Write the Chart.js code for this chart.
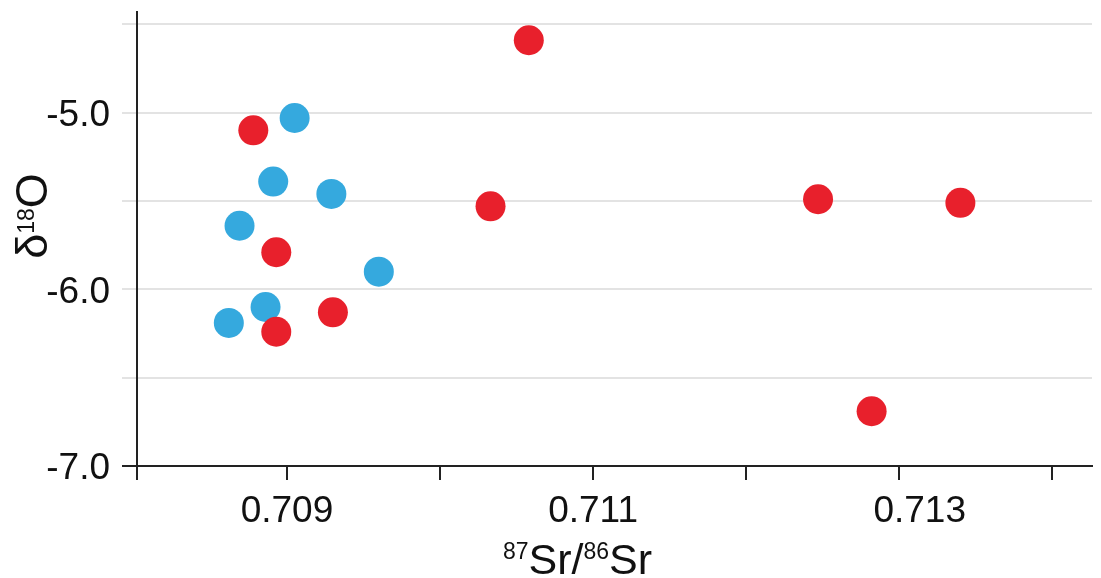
<!DOCTYPE html>
<html>
<head>
<meta charset="utf-8">
<script src="https://cdn.jsdelivr.net/npm/chart.js@4.4.1/dist/chart.umd.min.js"></script>
<style>
  html, body { margin: 0; padding: 0; background: #fff; }
  #wrap { width: 1101px; height: 578px; }
</style>
</head>
<body>
<div id="wrap"><canvas id="srChart"></canvas></div>
<script>
// red group
const redSr = [0.71058, 0.70878, 0.71033, 0.71247, 0.71340, 0.70893, 0.70930, 0.70893, 0.71282];
const redO = [-4.59, -5.10, -5.53, -5.49, -5.51, -5.79, -6.13, -6.24, -6.69];
// blue group
const blueSr = [0.70905, 0.70891, 0.70929, 0.70869, 0.70960, 0.70886, 0.70862];
const blueO = [-5.03, -5.39, -5.46, -5.64, -5.90, -6.10, -6.19];

const xMin = 0.70802, xMax = 0.71426;
const yMin = -7.0, yMax = -4.43;
const xTickVals = [xMin, 0.709, 0.710, 0.711, 0.712, 0.713, 0.714];
const xLabelled = [0.709, 0.711, 0.713];
// the 0.713 label sits a little right of its tick in the original
const xLabelText = ['0.709', '0.711', '    0.713'];
const yTickVals = [-7.0, -6.5, -6.0, -5.5, -5.0, -4.5];
const yLabelled = [-7.0, -6.0, -5.0];

const FONT = '"Liberation Sans", Arial, Helvetica, sans-serif';

function drawRich(c, parts, x, y) {
  let total = 0;
  parts.forEach((p) => {
    c.font = p[1] + 'px ' + FONT;
    p.w = c.measureText(p[0]).width;
    total += p.w;
  });
  let cx = x - total / 2;
  parts.forEach((p) => {
    c.font = p[1] + 'px ' + FONT;
    c.fillText(p[0], cx, y - p[2]);
    cx += p.w;
  });
}

const titlePlugin = {
  id: 'supTitles',
  afterDraw(chart) {
    const c = chart.ctx;
    const area = chart.chartArea;
    c.save();
    c.fillStyle = '#111';
    c.textAlign = 'left';
    c.textBaseline = 'alphabetic';
    drawRich(c, [['87', 23, 15], ['Sr/', 43, 0], ['86', 23, 15], ['Sr', 43, 0]],
      (area.left + area.right) / 2 - 37, chart.height - 4);
    c.translate(47, 216);
    c.rotate(-Math.PI / 2);
    drawRich(c, [['δ', 45, 0], ['18', 23, 13], ['O', 45, 0]], 0, 0);
    c.restore();
  }
};

new Chart(document.getElementById('srChart'), {
  type: 'scatter',
  data: {
    datasets: [
      { label: 'red', data: redSr.map((v, i) => ({ x: v, y: redO[i] })), backgroundColor: '#e8202c', borderWidth: 0, pointRadius: 15, pointHoverRadius: 15 },
      { label: 'blue', data: blueSr.map((v, i) => ({ x: v, y: blueO[i] })), backgroundColor: '#35a9de', borderWidth: 0, pointRadius: 15, pointHoverRadius: 15 }
    ]
  },
  options: {
    responsive: true,
    maintainAspectRatio: false,
    animation: false,
    layout: { autoPadding: false, padding: { top: 12, right: 9, left: 0, bottom: 0 } },
    plugins: { legend: { display: false }, tooltip: { enabled: false } },
    scales: {
      x: {
        type: 'linear',
        min: xMin,
        max: xMax,
        afterBuildTicks: (ax) => { ax.ticks = xTickVals.map((v) => ({ value: v })); },
        afterFit: (ax) => { ax.height = 112; ax.paddingLeft = 0; ax.paddingRight = 0; },
        grid: { drawOnChartArea: false, drawTicks: true, tickLength: 14, color: '#222', lineWidth: 2 },
        border: { display: true, color: '#222', width: 2 },
        ticks: {
          padding: 10, color: '#111', maxRotation: 0, autoSkip: false,
          font: { family: FONT, size: 37 },
          callback: (v) => {
            const k = xLabelled.indexOf(v);
            return k >= 0 ? xLabelText[k] : '';
          }
        }
      },
      y: {
        type: 'linear',
        min: yMin,
        max: yMax,
        afterBuildTicks: (ax) => { ax.ticks = yTickVals.map((v) => ({ value: v })); },
        afterFit: (ax) => { ax.width = 137; ax.paddingTop = 0; ax.paddingBottom = 0; },
        grid: {
          drawTicks: true, tickLength: 15, lineWidth: 2,
          color: (ctx) => (ctx.tick && ctx.tick.value === -7 ? '#222' : '#e3e3e3')
        },
        border: { display: true, color: '#222', width: 2 },
        ticks: {
          padding: 12, labelOffset: 3, color: '#111',
          font: { family: FONT, size: 37 },
          callback: (v) => (yLabelled.includes(v) ? v.toFixed(1) : '')
        }
      }
    }
  },
  plugins: [titlePlugin]
});
</script>
</body>
</html>
